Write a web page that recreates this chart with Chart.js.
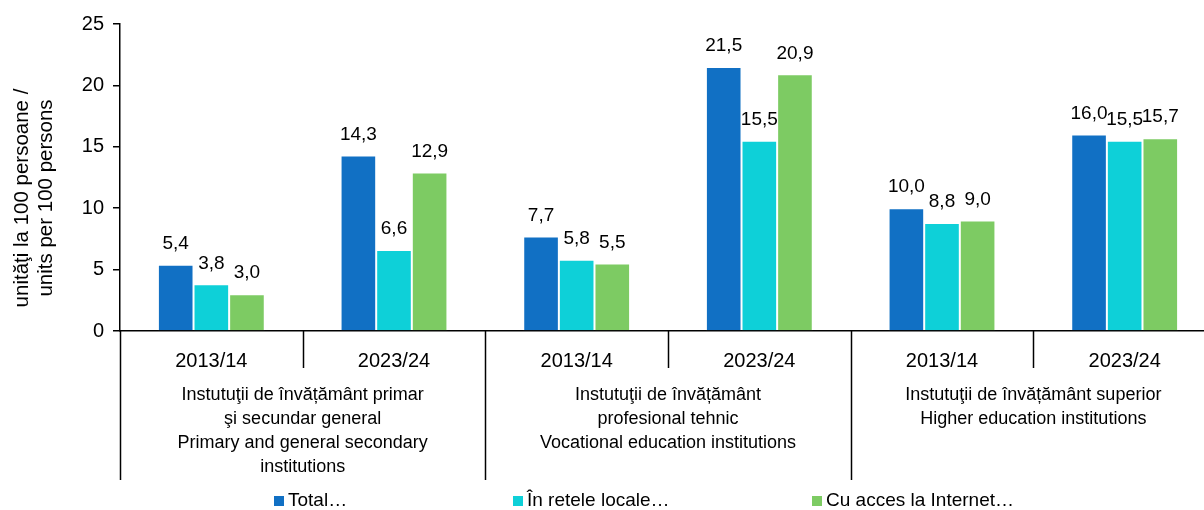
<!DOCTYPE html>
<html>
<head>
<meta charset="utf-8">
<script src="https://cdn.jsdelivr.net/npm/chart.js@4/dist/chart.umd.min.js"></script>
<style>
  html, body { margin: 0; padding: 0; background: #fff; overflow: hidden; }
  #wrap { width: 1204px; height: 510px; overflow: hidden; }
</style>
</head>
<body>
<div id="wrap"><canvas id="myChart" width="1216" height="510"></canvas></div>
<script>
// data
const years = ['2013/14', '2023/24', '2013/14', '2023/24', '2013/14', '2023/24'];
const groups = [
    ['Instutuţii de învățământ primar', 'şi secundar general', 'Primary and general secondary', 'institutions'],
    ['Instutuţii de învățământ', 'profesional tehnic', 'Vocational education institutions'],
    ['Instutuţii de învățământ superior', 'Higher education institutions']
];
const totalVals = [5.4, 14.3, 7.7, 21.5, 10.0, 16.0];
const localVals = [3.8, 6.6, 5.8, 15.5, 8.8, 15.5];
const internetVals = [3.0, 12.9, 5.5, 20.9, 9.0, 15.7];
const seriesNames = ['Total…', 'În retele locale…', 'Cu acces la Internet…'];
const yTicks = [0, 5, 10, 15, 20, 25];
const yTitle = ['unităţi la 100 persoane /', 'units per 100 persons'];

const FONT = 'Arial, "Liberation Sans", sans-serif';
const colors = ['#1170C4', '#0ED0D8', '#7DCB63'];

// value labels, two-level x axis, y title and legend
const extras = {
    id: 'extras',
    afterDatasetsDraw(chart) {
        const ctx = chart.ctx;
        ctx.save();
        ctx.font = '19px ' + FONT;
        ctx.fillStyle = '#000';
        ctx.textAlign = 'center';
        ctx.textBaseline = 'middle';
        chart.data.datasets.forEach((ds, i) => {
            chart.getDatasetMeta(i).data.forEach((bar, j) => {
                ctx.fillText(ds.data[j].toFixed(1).replace('.', ','), bar.x, bar.y - 21);
            });
        });
        ctx.restore();
    },
    afterDraw(chart) {
        const ctx = chart.ctx;
        const x = chart.scales.x;
        const area = chart.chartArea;
        const step = x.getPixelForValue(1) - x.getPixelForValue(0);
        ctx.save();
        ctx.strokeStyle = '#000';
        ctx.lineWidth = 1.5;
        // separators
        for (let i = 0; i < years.length; i++) {
            const px = Math.round(x.getPixelForValue(i) - step / 2) + 0.5;
            const long = i % 2 === 0;
            ctx.beginPath();
            ctx.moveTo(px, area.bottom);
            ctx.lineTo(px, long ? 480 : 368);
            ctx.stroke();
        }
        // group labels
        ctx.font = '18px ' + FONT;
        ctx.fillStyle = '#000';
        ctx.textAlign = 'center';
        ctx.textBaseline = 'middle';
        groups.forEach((lines, g) => {
            const cx = (x.getPixelForValue(g * 2) + x.getPixelForValue(g * 2 + 1)) / 2;
            lines.forEach((t, k) => ctx.fillText(t, cx, 395 + k * 24));
        });
        // y title
        ctx.save();
        ctx.font = '20.5px ' + FONT;
        ctx.translate(0, 198);
        ctx.rotate(-Math.PI / 2);
        ctx.fillText(yTitle[0], 0, 22);
        ctx.fillText(yTitle[1], 0, 46);
        ctx.restore();
        // legend
        const legX = [274, 513, 812];
        ctx.font = '19px ' + FONT;
        ctx.textAlign = 'left';
        seriesNames.forEach((n, i) => {
            ctx.fillStyle = colors[i];
            ctx.fillRect(legX[i], 496, 10, 10);
            ctx.fillStyle = '#000';
            ctx.fillText(n, legX[i] + 14, 501);
        });
        ctx.restore();
    }
};

const ctx = document.getElementById('myChart').getContext('2d');
const myChart = new Chart(ctx, {
    type: 'bar',
    data: {
        labels: years,
        datasets: [
            { label: seriesNames[0], data: totalVals, backgroundColor: colors[0] },
            { label: seriesNames[1], data: localVals, backgroundColor: colors[1] },
            { label: seriesNames[2], data: internetVals, backgroundColor: colors[2] }
        ].map(d => Object.assign(d, { borderColor: 'rgba(255,255,255,0.5)', borderWidth: 1, categoryPercentage: 0.585, barPercentage: 1 }))
    },
    options: {
        responsive: false,
        animation: false,
        layout: { padding: { top: 24, right: 0, bottom: 0, left: 0 } },
        plugins: {
            legend: { display: false },
            tooltip: { enabled: false }
        },
        scales: {
            x: {
                grid: { display: false },
                border: { color: '#000', width: 1.5 },
                ticks: { color: '#000', font: { family: FONT, size: 20 }, padding: 10, maxRotation: 0 },
                afterFit(scale) { scale.height = 179; }
            },
            y: {
                min: 0,
                max: 25,
                afterBuildTicks(scale) { scale.ticks = yTicks.map(v => ({ value: v })); },
                grid: { display: true, drawOnChartArea: false, tickLength: 7, color: '#000', lineWidth: 1.5 },
                border: { color: '#000', width: 1.5 },
                ticks: { color: '#000', font: { family: FONT, size: 20 }, padding: 9 },
                afterFit(scale) { scale.width = 120; }
            }
        }
    },
    plugins: [extras]
});
</script>
</body>
</html>
